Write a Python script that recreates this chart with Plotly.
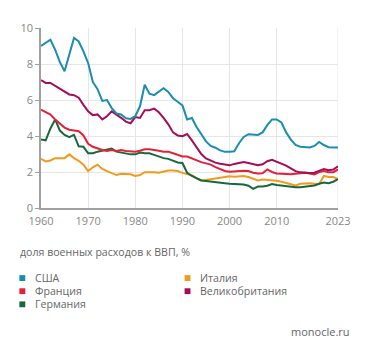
import plotly.graph_objects as go

years = list(range(1960, 2024))

usa = [9.0, 9.2, 9.35, 8.8, 8.1, 7.6, 8.5, 9.45, 9.25, 8.7,
       8.05, 7.0, 6.6, 5.95, 6.0, 5.55, 5.25, 5.2, 4.98, 4.95,
       5.1, 5.65, 6.85, 6.35, 6.27, 6.45, 6.65, 6.45, 6.1, 5.9,
       5.7, 4.92, 5.0, 4.5, 4.1, 3.7, 3.45, 3.35, 3.2, 3.12,
       3.13, 3.15, 3.6, 3.95, 4.1, 4.08, 4.06, 4.2, 4.6, 4.92,
       4.92, 4.75, 4.2, 3.8, 3.5, 3.4, 3.36, 3.36, 3.45, 3.67,
       3.5, 3.38, 3.36, 3.36]

uk = [7.1, 6.95, 6.95, 6.8, 6.63, 6.49, 6.31, 6.27, 6.13, 5.73,
      5.37, 5.16, 5.2, 4.92, 5.1, 5.37, 5.2, 5.01, 4.8, 4.71,
      5.05, 5.0, 5.43, 5.43, 5.52, 5.32, 5.01, 4.65, 4.2, 4.03,
      3.99, 4.11, 3.76, 3.4, 3.0, 2.75, 2.62, 2.52, 2.46, 2.4,
      2.37, 2.45, 2.5, 2.55, 2.5, 2.45, 2.37, 2.43, 2.6, 2.68,
      2.58, 2.48, 2.35, 2.2, 2.05, 1.98, 1.95, 1.94, 1.96, 2.05,
      2.17, 2.1, 2.14, 2.32]

france = [5.46, 5.32, 5.19, 4.92, 4.71, 4.47, 4.35, 4.3, 4.27, 4.03,
          3.57, 3.4, 3.3, 3.22, 3.17, 3.22, 3.17, 3.22, 3.17, 3.13,
          3.13, 3.18, 3.26, 3.26, 3.24, 3.18, 3.13, 3.13, 3.04, 2.95,
          2.86, 2.86, 2.75, 2.68, 2.55, 2.48, 2.41, 2.27, 2.15, 2.06,
          2.02, 2.03, 2.08, 2.07, 2.05, 1.96, 1.92, 1.93, 2.14, 2.0,
          1.92, 1.9, 1.88, 1.87, 1.9, 1.93, 1.96, 1.92, 1.87, 2.0,
          2.05, 1.99, 1.99, 2.14]

germany = [3.81, 3.76, 4.42, 4.92, 4.3, 4.06, 3.94, 4.06, 3.43, 3.4,
           3.04, 3.04, 3.13, 3.18, 3.26, 3.3, 3.13, 3.08, 3.04, 2.98,
           2.98, 3.08, 3.04, 3.04, 2.95, 2.86, 2.77, 2.73, 2.62, 2.53,
           2.5, 1.96, 1.78, 1.65, 1.53, 1.5, 1.46, 1.43, 1.4, 1.38,
           1.35, 1.34, 1.33, 1.3, 1.24, 1.06, 1.19, 1.19, 1.24, 1.33,
           1.28, 1.24, 1.2, 1.15, 1.15, 1.15, 1.17, 1.19, 1.25, 1.35,
           1.42, 1.38, 1.46, 1.6]

italy = [2.73, 2.59, 2.64, 2.77, 2.77, 2.77, 2.98, 2.77, 2.62, 2.41,
         2.05, 2.26, 2.41, 2.17, 2.05, 1.96, 1.83, 1.9, 1.9, 1.87,
         1.78, 1.83, 1.99, 2.01, 1.99, 1.96, 2.01, 2.08, 2.08, 2.05,
         1.95, 1.9, 1.82, 1.65, 1.53, 1.55, 1.6, 1.65, 1.69, 1.75,
         1.77, 1.74, 1.76, 1.78, 1.72, 1.62, 1.53, 1.58, 1.57, 1.55,
         1.51, 1.46, 1.4, 1.33, 1.25, 1.35, 1.37, 1.37, 1.35, 1.33,
         1.78, 1.72, 1.72, 1.6]

x_ticks = [1960, 1970, 1980, 1990, 2000, 2010, 2023]
y_ticks = [0, 2, 4, 6, 8, 10]

caption = "доля военных расходов к ВВП, %"
source = "monocle.ru"

series = [
    ("Италия", italy, "#f29a1f"),
    ("Германия", germany, "#17693c"),
    ("Франция", france, "#e5213a"),
    ("Великобритания", uk, "#a50d59"),
    ("США", usa, "#1a8db1"),
]

FONT = "Open Sans"
TXT = "#666666"

fig = go.Figure()
for name, vals, col in series:
    fig.add_trace(go.Scatter(x=years, y=vals, mode="lines", name=name,
                             line=dict(color=col, width=2), showlegend=False,
                             hoverinfo="skip"))

# page body has an 8px margin; target window coordinates are shifted by it
OFF = 8
W, H = 371 - 2 * OFF, 357 - 2 * OFF
left, right, top, bottom = 39 - OFF, 341 - OFF, 23 - OFF, 208 - OFF
ml, mr, mt, mb = left, W - right, top, H - bottom
pw, ph = right - left, bottom - top

def px(xw):
    return (xw - OFF - left) / pw

def py(yw):
    return (bottom - (yw - OFF)) / ph

annotations = [
    dict(text=caption, x=px(16), y=py(253), xref="paper", yref="paper",
         xanchor="left", yanchor="middle", showarrow=False,
         font=dict(family=FONT, size=10.6, color=TXT)),
    dict(text=source, x=px(355), y=py(335), xref="paper", yref="paper",
         xanchor="right", yanchor="middle", showarrow=False,
         font=dict(family=FONT, size=11, color=TXT)),
]
shapes = []
legend_items = [
    ("США", "#1a8db1", 20, 280),
    ("Франция", "#e5213a", 20, 293.5),
    ("Германия", "#17693c", 20, 307),
    ("Италия", "#f29a1f", 188, 280),
    ("Великобритания", "#a50d59", 188, 293.5),
]
for name, col, lx, ly in legend_items:
    shapes.append(dict(type="rect", xref="paper", yref="paper",
                       x0=px(lx - 3), x1=px(lx + 3), y0=py(ly + 3), y1=py(ly - 3),
                       fillcolor=col, line=dict(width=0)))
    annotations.append(dict(text=name, x=px(lx + 11), y=py(ly), xref="paper",
                            yref="paper", xanchor="left", yanchor="middle",
                            showarrow=False,
                            font=dict(family=FONT, size=10.6, color=TXT)))

fig.update_layout(
    width=W, height=H,
    margin=dict(l=ml, r=mr, t=mt, b=mb, pad=0),
    paper_bgcolor="white", plot_bgcolor="white",
    font=dict(family=FONT, size=11, color="#888888"),
    annotations=annotations, shapes=shapes,
    xaxis=dict(range=[1960, 2023], tickvals=x_ticks, ticktext=[str(v) for v in x_ticks],
               showgrid=True, gridcolor="#e6e6e6", gridwidth=1,
               showline=True, linecolor="#a0a0a0", linewidth=1.5,
               ticks="", zeroline=False, ticklabelstandoff=2,
               tickfont=dict(size=11, color="#888888")),
    yaxis=dict(range=[0, 10], tickvals=y_ticks, showgrid=True, gridcolor="#e6e6e6",
               gridwidth=1, showline=True, linecolor="#a0a0a0", linewidth=1.5,
               ticks="outside", ticklen=4, tickcolor="#a0a0a0", zeroline=False,
               tickfont=dict(size=11, color="#888888")),
)
fig.add_shape(type="line", xref="x", yref="paper", x0=2023, x1=2023, y0=0, y1=1,
              line=dict(color="#e6e6e6", width=1), layer="below")

fig.write_html("out.html")
